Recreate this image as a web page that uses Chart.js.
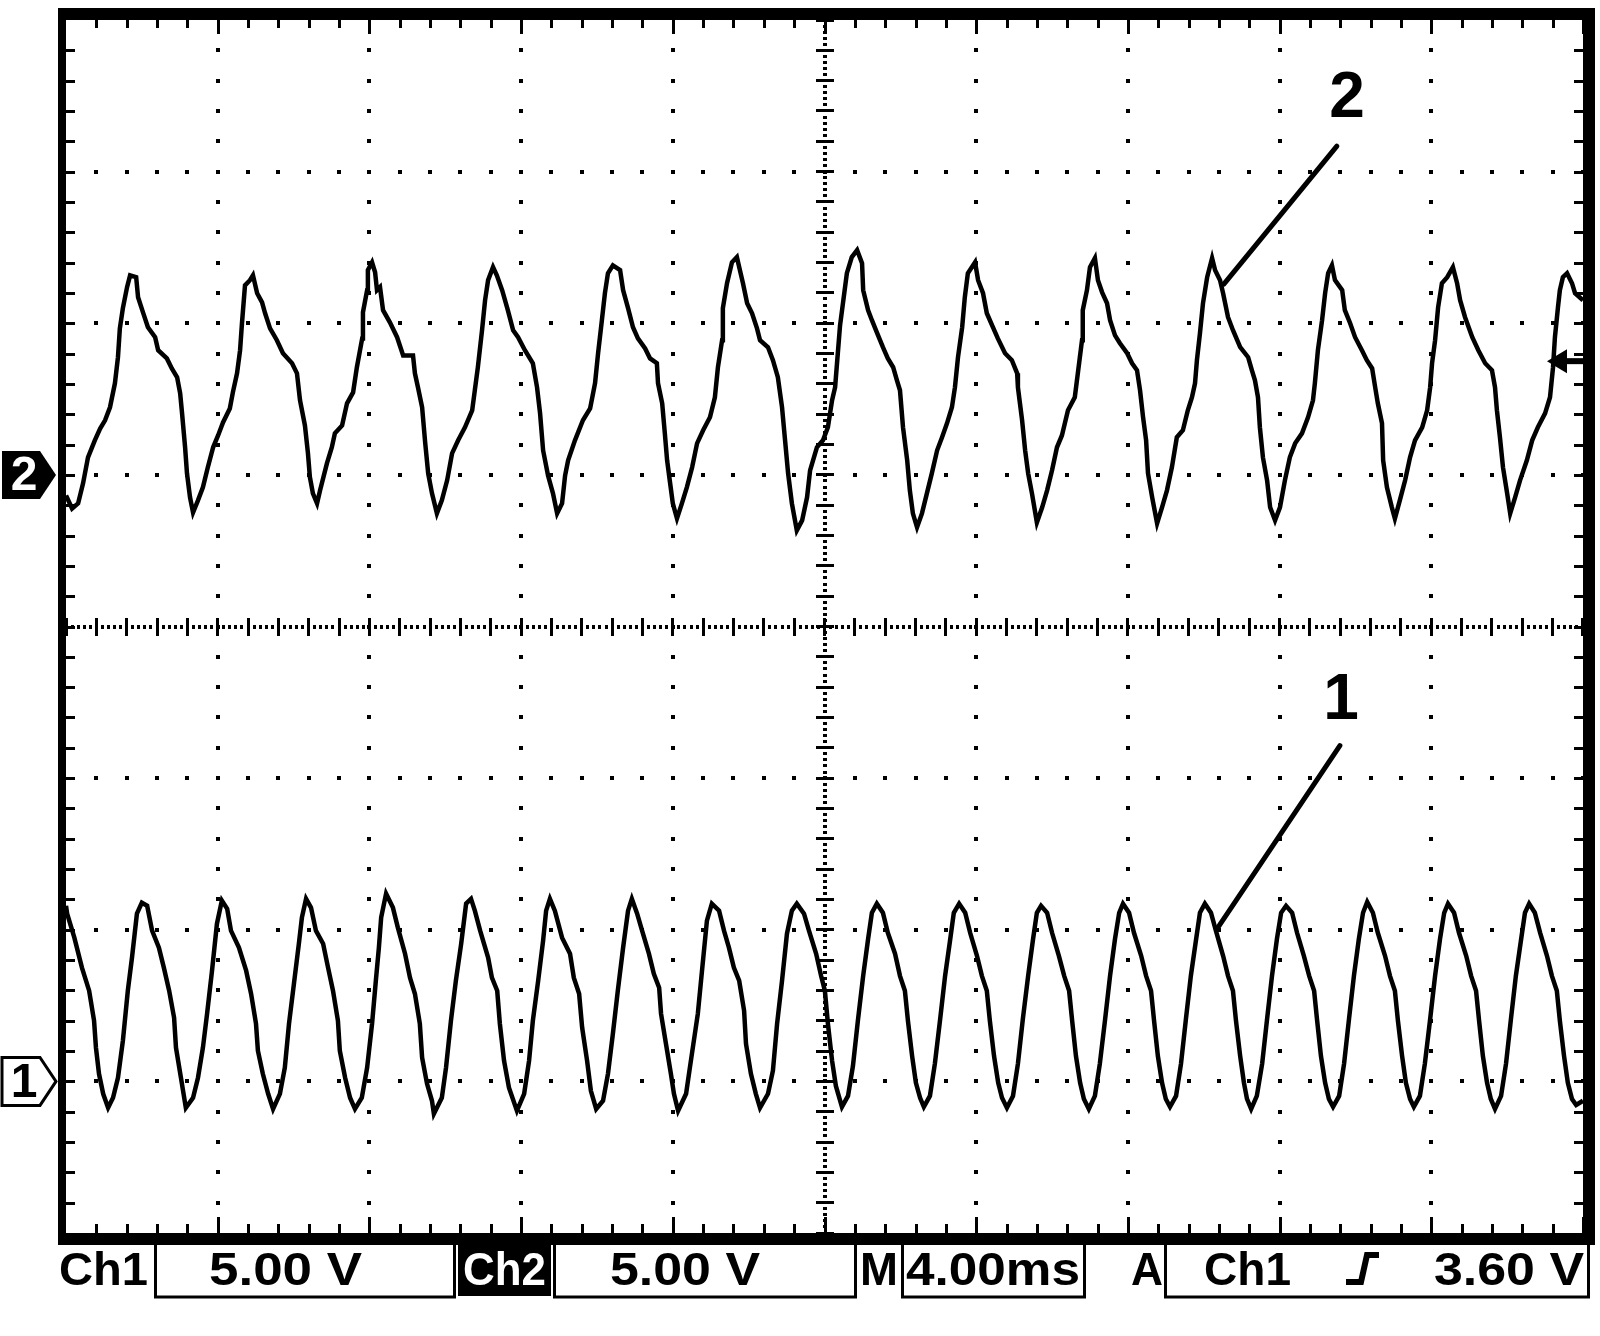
<!DOCTYPE html>
<html>
<head>
  <title>Ch1 / Ch2</title>
  <style>
    html, body { margin: 0; padding: 0; background: #fff; }
    canvas { display: block; }
  </style>
  <script src="https://cdn.jsdelivr.net/npm/chart.js"></script>
</head>
<body>
  <canvas id="scope" width="1600" height="1336"></canvas>

  <script>
    // time base 4 ms/div (10 div), both channels 5 V/div (8 div)
    const timeTicks = [0, 4, 8, 12, 16, 20, 24, 28, 32, 36, 40];
    const ch1Range = [-5, 35];   // ch1 ground sits 1 div above the bottom
    const ch2Range = [-25, 15];  // ch2 ground sits 3 div below the top

    // channel 2 (upper trace), ms / V
    const ch2Time = [
      0, 0.16, 0.32, 0.45, 0.58, 0.76, 0.90, 1.03, 1.16, 1.29, 1.37, 1.42, 1.50, 1.61, 1.69, 1.85, 1.90, 2.03, 2.16, 2.35, 2.43, 2.66, 2.79, 2.93, 3.01, 3.06, 3.14, 3.19, 3.27, 3.35,
      3.48, 3.61, 3.74, 3.88, 4.01, 4.14, 4.32, 4.40, 4.51, 4.59, 4.64, 4.72, 4.85, 4.93, 5.04, 5.17, 5.25, 5.38, 5.56, 5.72, 5.96, 6.09, 6.17, 6.30, 6.38, 6.43, 6.51, 6.62,
      6.70, 6.88, 7.01, 7.09, 7.28, 7.41, 7.57, 7.67, 7.81, 7.83, 7.94, 7.96, 8.07, 8.15, 8.20, 8.28, 8.36, 8.54, 8.73, 8.89, 9.15, 9.20, 9.28, 9.39, 9.47, 9.55, 9.65, 9.78,
      9.91, 10.05, 10.18, 10.34, 10.52, 10.71, 10.78, 10.86, 10.97, 11.05, 11.13, 11.26, 11.36, 11.50, 11.65, 11.79, 11.92, 12.10, 12.31, 12.42, 12.50, 12.58, 12.71, 12.84, 12.95,
      13.08, 13.16, 13.24, 13.42, 13.63, 13.82, 13.95, 14.03, 14.13, 14.21, 14.29, 14.42, 14.61, 14.69, 14.82, 14.95, 15.08, 15.27, 15.40, 15.58, 15.61, 15.72, 15.79, 15.85, 15.93, 16.00, 16.11,
      16.24, 16.37, 16.51, 16.64, 16.80, 16.98, 17.11, 17.19, 17.30, 17.32, 17.43, 17.56, 17.69, 17.77, 17.85, 17.96, 18.09, 18.22, 18.30, 18.51, 18.64, 18.77, 18.88, 18.96, 19.04, 19.14, 19.27,
      19.41, 19.54, 19.62, 19.80, 19.96, 20.09, 20.20, 20.28, 20.33, 20.41, 20.49, 20.59, 20.72, 20.86, 20.99, 21.02, 21.15, 21.25, 21.38, 21.54, 21.67, 21.81, 21.91, 21.99, 22.07, 22.18, 22.25, 22.33, 22.44,
      22.57, 22.70, 22.83, 22.97, 23.10, 23.23, 23.36, 23.44, 23.52, 23.63, 23.70, 23.78, 23.97, 24.05, 24.18, 24.28, 24.44, 24.57, 24.76, 24.94, 25.08, 25.10, 25.21, 25.29, 25.37, 25.47, 25.60,
      25.74, 25.87, 26.00, 26.13, 26.26, 26.42, 26.60, 26.68, 26.79, 26.81, 26.92, 27.00, 27.13, 27.21, 27.32, 27.45, 27.53, 27.66, 27.79, 27.98, 28.11, 28.24, 28.32, 28.40, 28.48, 28.53, 28.64, 28.77,
      28.90, 29.03, 29.16, 29.29, 29.45, 29.58, 29.69, 29.77, 29.82, 29.90, 29.98, 30.09, 30.22, 30.30, 30.43, 30.51, 30.64, 30.77, 30.96, 31.17, 31.27, 31.35, 31.43, 31.48, 31.56, 31.67, 31.75, 31.88,
      32.01, 32.14, 32.27, 32.41, 32.59, 32.75, 32.88, 32.93, 33.01, 33.12, 33.20, 33.28, 33.38, 33.46, 33.65, 33.72, 33.86, 33.99, 34.17, 34.30, 34.44, 34.52, 34.59, 34.70, 34.73, 34.83, 34.96, 35.04,
      35.17, 35.31, 35.44, 35.57, 35.76, 35.89, 35.97, 36.02, 36.10, 36.18, 36.28, 36.42, 36.57, 36.68, 36.76, 36.89, 37.08, 37.24, 37.42, 37.60, 37.68, 37.73, 37.81, 37.89, 38.00, 38.08,
      38.21, 38.34, 38.52, 38.66, 38.81, 39.00, 39.13, 39.21, 39.26, 39.34, 39.39, 39.47, 39.58, 39.71, 39.79, 40.00
    ];
    const ch2Volt = [
      -0.68, -1.11, -0.94, -0.28, 0.58, 1.14, 1.53, 1.80, 2.23, 3.02, 3.88, 4.83, 5.50, 6.19, 6.58, 6.52, 5.86, 5.36, 4.87, 4.54, 4.11, 3.84, 3.51, 3.22, 2.69, 2.03, 0.91, 0.05, -0.74, -1.24,
      -0.84, -0.41, 0.25, 0.91, 1.30, 1.73, 2.19, 2.72, 3.35, 4.11, 5.00, 6.25, 6.42, 6.58, 5.99, 5.69, 5.33, 4.83, 4.44, 4.01, 3.68, 3.35, 2.46, 1.63, 0.71, -0.07, -0.61, -0.94,
      -0.51, 0.38, 0.91, 1.37, 1.63, 2.36, 2.72, 3.55, 4.50, 5.36, 6.09, 6.75, 7.01, 6.68, 6.09, 6.19, 5.43, 5.03, 4.54, 3.94, 3.94, 3.35, 2.89, 2.23, 1.07, 0.05, -0.61, -1.27,
      -0.84, -0.18, 0.71, 1.14, 1.57, 2.13, 2.79, 3.55, 4.77, 5.76, 6.42, 6.85, 6.58, 6.09, 5.43, 4.77, 4.54, 4.11, 3.68, 2.89, 2.03, 0.81, -0.02, -0.61, -1.27,
      -0.94, -0.02, 0.48, 1.14, 1.80, 2.19, 3.02, 4.01, 5.10, 5.99, 6.65, 6.91, 6.75, 6.09, 5.50, 4.87, 4.50, 4.17, 3.84, 3.68, 3.02, 2.36, 1.37, 0.48, -0.28, -0.94, -1.44,
      -0.94, -0.41, 0.25, 1.04, 1.47, 1.90, 2.56, 3.55, 4.44, 5.50, 6.32, 7.01, 7.18, 6.75, 6.32, 5.66, 5.33, 4.83, 4.44, 4.21, 3.78, 3.22, 2.23, 1.14, 0.05, -0.94, -1.83,
      -1.50, -0.74, 0.15, 0.91, 1.14, 1.57, 2.46, 2.89, 3.68, 4.93, 5.69, 6.65, 7.18, 7.41, 6.98, 6.09, 5.43, 5.10, 4.70, 4.21, 3.84, 3.55, 3.12, 2.79, 1.57, 0.48, -0.51, -1.27, -1.73,
      -1.27, -0.61, 0.05, 0.81, 1.24, 1.70, 2.23, 2.89, 3.88, 4.87, 5.86, 6.65, 7.01, 6.42, 5.99, 5.33, 4.87, 4.50, 4.01, 3.78, 3.35, 2.89, 1.80, 0.81, 0.05, -0.61, -1.57,
      -1.07, -0.51, 0.15, 0.91, 1.30, 2.13, 2.56, 3.35, 4.44, 5.43, 6.09, 6.85, 7.15, 6.42, 6.02, 5.66, 5.10, 4.60, 4.34, 4.01, 3.68, 3.45, 2.79, 1.90, 1.14, 0.05, -0.74, -1.60,
      -1.07, -0.51, 0.25, 1.24, 1.47, 2.13, 2.56, 3.02, 3.78, 4.67, 5.66, 6.52, 7.15, 6.75, 6.42, 5.99, 5.20, 4.77, 4.21, 3.88, 3.45, 3.12, 2.56, 1.57, 0.58, -0.18, -1.07, -1.50,
      -1.07, -0.18, 0.58, 1.04, 1.37, 1.90, 2.46, 3.02, 4.11, 5.10, 5.99, 6.65, 6.91, 6.42, 6.09, 5.43, 5.00, 4.54, 4.11, 3.78, 3.51, 2.89, 2.36, 1.70, 0.48, -0.41, -1.07, -1.44,
      -0.84, -0.18, 0.58, 1.14, 1.57, 2.13, 2.89, 3.68, 4.44, 5.53, 6.32, 6.52, 6.85, 6.32, 5.76, 5.20, 4.54, 4.11, 3.68, 3.45, 2.89, 2.13, 1.24, 0.25, -0.61, -1.27,
      -0.74, -0.18, 0.48, 1.14, 1.57, 2.03, 2.56, 3.55, 4.54, 5.53, 6.09, 6.52, 6.65, 6.32, 5.99, 5.76
    ];

    // channel 1 (lower trace), ms / V
    const ch1Time = [
      0, 0.03, 0.22, 0.42, 0.61, 0.74, 0.79, 0.87, 0.98, 1.11, 1.24, 1.37, 1.50, 1.63, 1.74, 1.87, 2.00, 2.14, 2.27, 2.45,
      2.58, 2.72, 2.85, 2.90, 3.03, 3.16, 3.35, 3.48, 3.61, 3.72, 3.85, 3.98, 4.11, 4.25, 4.35, 4.56, 4.75, 4.88, 5.01, 5.06,
      5.19, 5.33, 5.46, 5.64, 5.77, 5.88, 6.01, 6.14, 6.22, 6.33, 6.46, 6.59, 6.78, 6.91, 7.04, 7.17, 7.22, 7.36, 7.49, 7.62,
      7.80, 7.94, 8.07, 8.17, 8.25, 8.31, 8.44, 8.62, 8.75, 8.94, 9.07, 9.20, 9.33, 9.39, 9.52, 9.65, 9.70, 9.91, 10.02, 10.15,
      10.28, 10.42, 10.55, 10.68, 10.78, 10.92, 11.13, 11.23, 11.37, 11.44, 11.55, 11.68, 11.89, 12.08, 12.21, 12.31, 12.45, 12.58, 12.66, 12.76,
      12.89, 13.08, 13.29, 13.39, 13.53, 13.61, 13.74, 13.84, 13.98, 14.16, 14.29, 14.42, 14.55, 14.69, 14.82, 14.92, 15.06, 15.19, 15.37, 15.50,
      15.64, 15.69, 15.82, 15.95, 16.03, 16.14, 16.35, 16.45, 16.66, 16.77, 16.90, 17.03, 17.22, 17.35, 17.48, 17.61, 17.75, 17.88, 17.93, 18.06,
      18.19, 18.30, 18.51, 18.64, 18.75, 18.88, 19.01, 19.14, 19.27, 19.46, 19.59, 19.78,
      19.91, 20.01, 20.09, 20.20, 20.30, 20.46, 20.62, 20.75, 20.88, 21.02, 21.15, 21.25, 21.38,
      21.54, 21.67, 21.86, 21.99, 22.12, 22.20, 22.31, 22.41, 22.52, 22.62, 22.78, 22.91, 23.05, 23.18, 23.31, 23.41, 23.55,
      23.71, 23.84, 24.02, 24.15, 24.28, 24.36, 24.47, 24.58, 24.68, 24.81, 24.97, 25.10, 25.23, 25.37, 25.50, 25.60, 25.71,
      25.87, 26.00, 26.18, 26.32, 26.45, 26.53, 26.63, 26.74, 26.84, 26.97, 27.13, 27.26, 27.40, 27.53, 27.66, 27.77, 27.87,
      28.03, 28.16, 28.35, 28.48, 28.61, 28.69, 28.79, 28.90, 29.00, 29.11, 29.27, 29.40, 29.53, 29.66, 29.80, 29.90, 30.03,
      30.19, 30.32, 30.51, 30.64, 30.77, 30.85, 30.96, 31.06, 31.14, 31.25, 31.40, 31.54, 31.67, 31.80, 31.93, 32.04, 32.17,
      32.33, 32.46, 32.64, 32.78, 32.91, 32.99, 33.09, 33.20, 33.30, 33.41, 33.57, 33.70, 33.83, 33.96, 34.09, 34.20, 34.31,
      34.46, 34.59, 34.78, 34.91, 35.04, 35.12, 35.23, 35.33, 35.44, 35.54, 35.70, 35.83, 35.97, 36.10, 36.23, 36.34, 36.44,
      36.60, 36.73, 36.92, 37.05, 37.18, 37.26, 37.36, 37.47, 37.57, 37.68, 37.84, 37.97, 38.10, 38.23, 38.37, 38.47, 38.58,
      38.73, 38.87, 39.05, 39.18, 39.31, 39.39, 39.50, 39.60, 39.71, 39.82, 40.00
    ];
    const ch1Volt = [
      5.79, 5.53, 4.74, 3.75, 2.99, 2.00, 1.11, 0.25, -0.41, -0.87, -0.54, 0.12, 1.34, 2.99, 4.08, 5.53, 5.89, 5.79, 4.97, 4.41,
      3.75, 2.99, 2.10, 1.11, 0.12, -0.87, -0.54, 0.12, 1.11, 2.23, 3.65, 5.20, 5.96, 5.69, 4.97, 4.41, 3.65, 2.89, 1.90, 1.01,
      0.25, -0.41, -0.91, -0.41, 0.45, 1.90, 3.22, 4.54, 5.40, 6.02, 5.73, 4.97, 4.54, 3.75, 2.99, 2.00, 1.01, 0.12, -0.54, -0.91,
      -0.54, 0.45, 1.90, 3.32, 4.41, 5.40, 6.19, 5.73, 5.07, 4.21, 3.42, 2.89, 1.90, 0.78, -0.08, -0.64, -1.07, -0.54, 0.45, 2.00,
      3.32, 4.54, 5.86, 6.02, 5.63, 4.97, 4.08, 3.42, 2.99, 1.90, 0.68, -0.21, -0.97, -0.41, 0.68, 2.00, 3.32, 4.64, 5.63, 6.02,
      5.63, 4.74, 4.21, 3.42, 2.89, 1.77, 0.68, -0.31, -0.91, -0.64, 0.25, 1.57, 2.99, 4.41, 5.63, 6.02, 5.53, 4.97, 4.21, 3.55,
      3.09, 2.23, 1.24, 0.25, -0.41, -0.97, -0.41, 0.45, 2.23, 3.65, 5.30, 5.86, 5.63, 4.97, 4.41, 3.75, 3.32, 2.33, 1.24, 0.25,
      -0.41, -0.87, -0.41, 0.35, 1.90, 3.32, 4.87, 5.63, 5.86, 5.53, 4.97, 4.21,
      3.48, 2.99, 1.90, 0.68, -0.15, -0.84, -0.48, 0.51, 2.00, 3.48, 4.70, 5.56, 5.86,
      5.56, 4.90, 4.21, 3.48, 2.99, 2.00, 0.84, -0.05, -0.54, -0.84, -0.48, 0.58, 2.06, 3.48, 4.64, 5.56, 5.86,
      5.56, 4.90, 4.14, 3.48, 2.99, 2.00, 0.84, -0.05, -0.54, -0.87, -0.48, 0.58, 2.06, 3.48, 4.70, 5.56, 5.79,
      5.56, 4.90, 4.14, 3.48, 2.99, 2.00, 0.84, -0.05, -0.58, -0.91, -0.48, 0.58, 2.06, 3.48, 4.70, 5.56, 5.86,
      5.56, 4.90, 4.14, 3.48, 2.99, 2.00, 0.84, -0.05, -0.58, -0.84, -0.48, 0.58, 2.06, 3.48, 4.70, 5.56, 5.86,
      5.56, 4.97, 4.14, 3.48, 2.99, 2.00, 0.84, -0.05, -0.58, -0.91, -0.48, 0.58, 2.06, 3.48, 4.70, 5.56, 5.79,
      5.56, 4.90, 4.14, 3.48, 2.99, 2.00, 0.84, -0.05, -0.58, -0.84, -0.48, 0.58, 2.06, 3.48, 4.70, 5.56, 5.92,
      5.56, 4.90, 4.14, 3.48, 2.99, 2.00, 0.84, -0.05, -0.58, -0.84, -0.48, 0.58, 2.06, 3.48, 4.70, 5.56, 5.86,
      5.56, 4.90, 4.14, 3.48, 2.99, 2.00, 0.84, -0.05, -0.58, -0.91, -0.48, 0.58, 2.06, 3.48, 4.70, 5.56, 5.86,
      5.56, 4.90, 4.14, 3.48, 2.99, 2.00, 0.84, -0.05, -0.58, -0.78, -0.64
    ];

    // readout strip under the screen
    const ch1Scale = '5.00 V';
    const ch2Scale = '5.00 V';
    const timeScale = '4.00ms';
    const triggerSource = 'Ch1';
    const triggerLevel = '3.60 V';
    const triggerMark = 3.75;    // on the ch2 axis, where the arrow is drawn

    // curve labels: text, axis, label position, leader line start/end (ms, V)
    const curveLabels = [
      { text: '2', axis: 'y2', at: [33.78, 12.39], from: [33.51, 10.84], to: [30.53, 6.29] },
      { text: '1', axis: 'y1', at: [33.62, 12.52], from: [33.59, 11.07], to: [30.35, 5.03] }
    ];

    function toPoints(ts, vs) {
      const n = Math.min(ts.length, vs.length);
      const pts = [];
      for (let i = 0; i < n; i++) pts.push({ x: ts[i], y: vs[i] });
      return pts;
    }

    function fitText(ctx, str, x0, x1, base) {
      const w = ctx.measureText(str).width;
      ctx.save();
      ctx.translate(x0, base);
      ctx.scale((x1 - x0) / w, 1);
      ctx.fillText(str, 0, 0);
      ctx.restore();
    }

    // dotted graticule under the traces, frame and readout on top
    const graticule = {
      id: 'graticule',
      beforeDatasetsDraw(chart) {
        const { ctx, chartArea: a, scales: { x, y1 } } = chart;
        const dot = (px, py, w, h) => ctx.fillRect(Math.round(px - w / 2), Math.round(py - h / 2), w, h);
        ctx.save();
        ctx.fillStyle = '#000';
        const tMid = timeTicks[5];
        const vMid = (ch1Range[0] + ch1Range[1]) / 2;

        // vertical lines
        timeTicks.forEach((t, i) => {
          if (i === 0 || i === timeTicks.length - 1) return;
          const px = x.getPixelForValue(t);
          if (t === tMid) {
            for (let v = ch1Range[0]; v <= ch1Range[1] + 0.01; v += 0.2) dot(px, y1.getPixelForValue(v), 4, 3);
            for (let v = ch1Range[0]; v <= ch1Range[1]; v += 1) dot(px, y1.getPixelForValue(v), 18, 3);
          } else {
            for (let v = ch1Range[0] + 1; v < ch1Range[1]; v += 1) dot(px, y1.getPixelForValue(v), 4, 4);
          }
        });

        // horizontal lines
        for (let v = ch1Range[0] + 5; v < ch1Range[1]; v += 5) {
          const py = y1.getPixelForValue(v);
          if (v === vMid) {
            for (let t = 0; t <= 40.01; t += 0.16) dot(x.getPixelForValue(t), py, 3, 4);
            for (let t = 0; t <= 40.01; t += 0.8) dot(x.getPixelForValue(t), py, 3, 18);
          } else {
            for (let t = 0.8; t < 40; t += 0.8) dot(x.getPixelForValue(t), py, 4, 4);
          }
        }

        // ticks along the frame
        for (let t = 0.8; t < 40; t += 0.8) {
          const px = Math.round(x.getPixelForValue(t)) - 1;
          const major = Math.abs(t / 4 - Math.round(t / 4)) < 0.01;
          ctx.fillRect(px, a.top, 3, major ? 14 : 8);
          ctx.fillRect(px, a.bottom - (major ? 16 : 9), 3, major ? 16 : 9);
        }
        for (let v = ch1Range[0] + 1; v < ch1Range[1]; v += 1) {
          const py = Math.round(y1.getPixelForValue(v)) - 1;
          ctx.fillRect(a.left, py, 9, 3);
          ctx.fillRect(a.right - 9, py, 9, 3);
        }
        ctx.restore();
      },

      afterDatasetsDraw(chart) {
        const { ctx, chartArea: a, scales } = chart;
        ctx.save();
        ctx.fillStyle = '#000';
        ctx.strokeStyle = '#000';

        // screen frame
        ctx.fillRect(a.left - 8, a.top - 12, a.right - a.left + 20, 12);
        ctx.fillRect(a.left - 8, a.bottom, a.right - a.left + 20, 12);
        ctx.fillRect(a.left - 8, a.top - 12, 8, a.bottom - a.top + 24);
        ctx.fillRect(a.right, a.top - 12, 12, a.bottom - a.top + 24);

        // ground markers
        const marker = (cy, label, filled) => {
          ctx.beginPath();
          ctx.moveTo(2, cy - 24);
          ctx.lineTo(40, cy - 24);
          ctx.lineTo(56, cy);
          ctx.lineTo(40, cy + 24);
          ctx.lineTo(2, cy + 24);
          ctx.closePath();
          if (filled) { ctx.fill(); } else { ctx.lineWidth = 3; ctx.fillStyle = '#fff'; ctx.fill(); ctx.stroke(); }
          ctx.fillStyle = filled ? '#fff' : '#000';
          ctx.font = 'bold 48px "Liberation Sans", Arial, sans-serif';
          ctx.textAlign = 'center';
          ctx.textBaseline = 'middle';
          ctx.fillText(label, 24, cy + 2);
          ctx.fillStyle = '#000';
        };
        marker(scales.y2.getPixelForValue(0), '2', true);
        marker(scales.y1.getPixelForValue(0), '1', false);

        // trigger arrow on the right edge
        const ty = scales.y2.getPixelForValue(triggerMark);
        ctx.beginPath();
        ctx.moveTo(a.right - 36, ty);
        ctx.lineTo(a.right - 16, ty - 12);
        ctx.lineTo(a.right - 16, ty + 12);
        ctx.closePath();
        ctx.fill();
        ctx.fillRect(a.right - 18, ty - 3, 18, 6);

        // curve labels with leader lines
        ctx.lineWidth = 5;
        ctx.lineCap = 'round';
        ctx.font = 'bold 64px "Liberation Sans", Arial, sans-serif';
        ctx.textAlign = 'center';
        ctx.textBaseline = 'middle';
        curveLabels.forEach(c => {
          const ys = scales[c.axis];
          ctx.beginPath();
          ctx.moveTo(scales.x.getPixelForValue(c.from[0]), ys.getPixelForValue(c.from[1]));
          ctx.lineTo(scales.x.getPixelForValue(c.to[0]), ys.getPixelForValue(c.to[1]));
          ctx.stroke();
          ctx.fillText(c.text, scales.x.getPixelForValue(c.at[0]), ys.getPixelForValue(c.at[1]));
        });

        // readout strip
        const top = a.bottom + 3;
        const base = a.bottom + 52;
        ctx.lineWidth = 3;
        ctx.lineCap = 'butt';
        ctx.textAlign = 'left';
        ctx.textBaseline = 'alphabetic';
        ctx.font = 'bold 46px "Liberation Sans", Arial, sans-serif';
        ctx.strokeRect(155.5, top, 299, 61);
        ctx.strokeRect(554.5, top, 301, 61);
        ctx.strokeRect(902.5, top, 182, 61);
        ctx.strokeRect(1165.5, top, 423, 61);
        fitText(ctx, 'Ch1', 59, 148, base);
        fitText(ctx, ch1Scale, 209, 362, base);
        ctx.fillRect(458, a.bottom + 12, 93, 51);
        ctx.fillStyle = '#fff';
        fitText(ctx, 'Ch2', 463, 546, base);
        ctx.fillStyle = '#000';
        fitText(ctx, ch2Scale, 610, 760, base);
        fitText(ctx, 'M', 860, 898, base);
        fitText(ctx, timeScale, 906, 1080, base);
        fitText(ctx, 'A', 1131, 1163, base);
        fitText(ctx, triggerSource, 1204, 1291, base);
        fitText(ctx, triggerLevel, 1434, 1584, base);

        // rising edge symbol
        ctx.lineWidth = 6;
        ctx.beginPath();
        ctx.moveTo(1346, base - 3);
        ctx.lineTo(1361, base - 3);
        ctx.lineTo(1367, base - 30);
        ctx.lineTo(1379, base - 30);
        ctx.stroke();
        ctx.restore();
      }
    };

    const trace = (label, pts, axis) => ({
      label: label,
      data: pts,
      yAxisID: axis,
      borderColor: '#000',
      borderWidth: 4.5,
      pointRadius: 0,
      tension: 0,
      fill: false
    });

    new Chart(document.getElementById('scope').getContext('2d'), {
      type: 'line',
      data: {
        datasets: [
          trace('Ch2', toPoints(ch2Time, ch2Volt), 'y2'),
          trace('Ch1', toPoints(ch1Time, ch1Volt), 'y1')
        ]
      },
      options: {
        responsive: false,
        animation: false,
        devicePixelRatio: 1,
        layout: { padding: { left: 66, right: 17, top: 20, bottom: 103 } },
        plugins: { legend: { display: false }, tooltip: { enabled: false } },
        scales: {
          x: { type: 'linear', min: timeTicks[0], max: timeTicks[timeTicks.length - 1], display: false },
          y1: { type: 'linear', min: ch1Range[0], max: ch1Range[1], display: false },
          y2: { type: 'linear', min: ch2Range[0], max: ch2Range[1], display: false }
        }
      },
      plugins: [graticule]
    });
  </script>
</body>
</html>
